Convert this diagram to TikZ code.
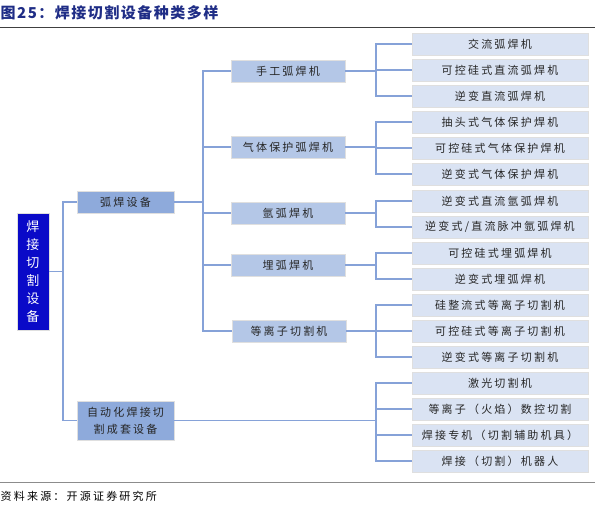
\documentclass[tikz,border=0pt]{standalone}
\usepackage{fontspec}
\usepackage{tikz}
\newfontfamily\cjk[LetterSpace=20]{Noto Sans CJK SC}
\newfontfamily\cjkplain{Noto Sans CJK SC}
\newfontfamily\cjktitle[LetterSpace=10]{Noto Sans CJK SC}
\definecolor{rootblue}{HTML}{0A0AC8}
\definecolor{catblue}{HTML}{8EAADB}
\definecolor{kindblue}{HTML}{B4C7E7}
\definecolor{leafblue}{HTML}{DAE3F3}
\definecolor{linkblue}{HTML}{86A2D8}
\definecolor{titleblue}{HTML}{1F2D86}

\begin{document}
\begin{tikzpicture}[x=1pt, y=-1pt,
  conn/.style={draw=linkblue, line width=1.3pt},
  box/.style={draw=white!75!gray, line width=0.8pt, inner sep=0pt, text=black!85,
    font=\cjk\fontsize{11}{17}\selectfont, align=center},
  rootbox/.style={box, fill=rootblue, text=white, minimum width=32pt, minimum height=117pt,
    font=\cjkplain\fontsize{13}{18}\selectfont},
  catbox/.style={box, fill=catblue, minimum width=97pt, minimum height=22pt},
  kindbox/.style={box, fill=kindblue, minimum width=114pt, minimum height=22pt},
  leafbox/.style={box, fill=leafblue, minimum width=176pt, minimum height=22pt}]
  \useasboundingbox (0,0) rectangle (595,506);
  % ===== title and source =====
  \node[anchor=west, inner sep=0pt, text=titleblue, font=\cjktitle\bfseries\fontsize{15}{18}\selectfont]
    (title) at (0.5,13) {图25：焊接切割设备种类多样};
  \draw[black!75, line width=1.5pt] (0,27.5) -- (595,27.5);
  \draw[black!45, line width=1pt] (0,482) -- (595,482);
  \node[anchor=west, inner sep=0pt, font=\cjk\fontsize{11}{13}\selectfont]
    (source) at (0.5,496) {资料来源：开源证券研究所};
  % ===== root and categories =====
  \node[rootbox] (root) at (33,271.5) {焊\\接\\切\\割\\设\\备};
  \node[catbox] (arc) at (125.5,202) {弧焊设备};
  \node[catbox, minimum height=39pt] (auto) at (125.5,420.5) {自动化焊接切\\割成套设备};
  % ===== kinds of arc welders =====
  \node[kindbox] (k1) at (288,71) {手工弧焊机};
  \node[kindbox] (k2) at (288,147) {气体保护弧焊机};
  \node[kindbox] (k3) at (288,213) {氩弧焊机};
  \node[kindbox] (k4) at (288,265) {埋弧焊机};
  \node[kindbox] (k5) at (289,331) {等离子切割机};
  % ===== leaves =====
  \foreach \y/\name/\txt in {44/l1/交流弧焊机, 70/l2/可控硅式直流弧焊机, 96/l3/逆变直流弧焊机,
      122/l4/抽头式气体保护焊机, 148/l5/可控硅式气体保护焊机, 174/l6/逆变式气体保护焊机,
      201/l7/逆变式直流氩弧焊机, 227/l8/{逆变式/直流脉冲氩弧焊机},
      253/l9/可控硅式埋弧焊机, 279/l10/逆变式埋弧焊机,
      305/l11/硅整流式等离子切割机, 331/l12/可控硅式等离子切割机, 357/l13/逆变式等离子切割机,
      383/l14/激光切割机, 409/l15/等离子（火焰）数控切割, 435/l16/焊接专机（切割辅助机具）,
      461/l17/焊接（切割）机器人}
    \node[leafbox] (\name) at (500,\y) {\txt};
  % ===== connectors =====
  \coordinate (busA) at (63,0);
  \coordinate (busB) at (203,0);
  \coordinate (busC) at (376,0);
  \draw[conn] (root.east) -- (root.east -| busA);
  \foreach \n in {arc,auto}
    \draw[conn] (root.east -| busA) |- (\n.west);
  \draw[conn] (arc.east) -- (arc.east -| busB);
  \foreach \n in {k1,k2,k3,k4,k5}
    \draw[conn] (arc.east -| busB) |- (\n.west);
  \foreach \k/\ls in {k1/{l1,l2,l3}, k2/{l4,l5,l6}, k3/{l7,l8}, k4/{l9,l10},
      k5/{l11,l12,l13}, auto/{l14,l15,l16,l17}} {
    \draw[conn] (\k.east) -- (\k.east -| busC);
    \foreach \l in \ls
      \draw[conn] (\k.east -| busC) |- (\l.west);
  }
\end{tikzpicture}
\end{document}
